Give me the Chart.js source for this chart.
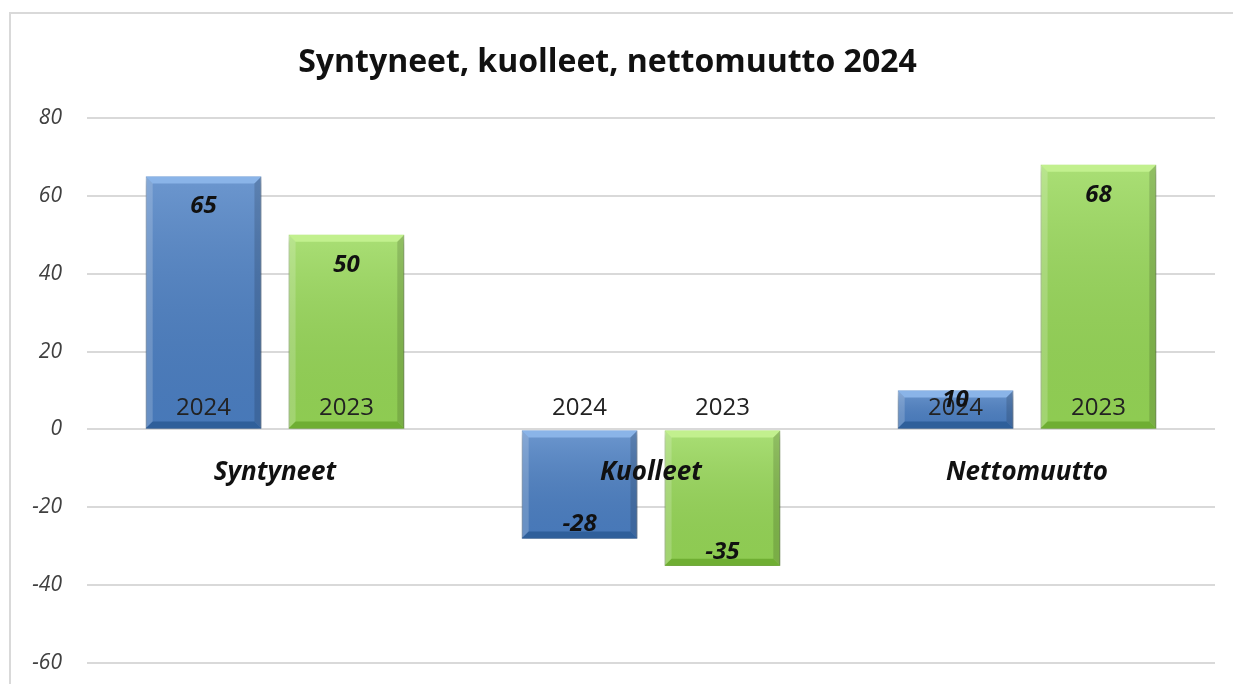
<!DOCTYPE html>
<html>
<head>
<meta charset="utf-8">
<script src="https://cdn.jsdelivr.net/npm/chart.js@4/dist/chart.umd.min.js"></script>
<style>
  html, body { margin: 0; padding: 0; background: #fff; }
  #wrap { position: relative; width: 1233px; height: 684px; overflow: hidden; }
  #frame { position: absolute; left: 9px; top: 12px; width: 1240px; height: 700px; border: 2px solid #d9d9d9; box-sizing: border-box; }
  canvas { position: absolute; left: 0; top: 0; }
</style>
</head>
<body>
<div id="wrap">
  <div id="frame"></div>
  <canvas id="c" width="1233" height="684"></canvas>
</div>
<script>
const titleText = 'Syntyneet, kuolleet, nettomuutto 2024';
const categories = ['Syntyneet', 'Kuolleet', 'Nettomuutto'];
const seriesNames = ['2024', '2023'];
const values2024 = [65, -28, 10];
const values2023 = [50, -35, 68];
const yTicks = [-60, -40, -20, 0, 20, 40, 60, 80];

const baseColors = ['#4c80c4', '#97d857'];
const lightColors = ['#8ab4e8', '#c2f08e'];
const darkColors = ['#2f5f9a', '#6fae33'];

const shadowPlugin = {
  id: 'shadowPlugin',
  beforeDatasetsDraw(chart) {
    const ctx = chart.ctx;
    ctx.save();
    ctx.shadowColor = 'rgba(0,0,0,0.35)';
    ctx.shadowBlur = 6;
    ctx.shadowOffsetX = 0;
    ctx.shadowOffsetY = 5;
  },
  afterDatasetsDraw(chart) {
    chart.ctx.restore();
  }
};

const bevelPlugin = {
  id: 'bevelPlugin',
  afterDatasetsDraw(chart) {
    const ctx = chart.ctx;
    chart.data.datasets.forEach((ds, di) => {
      const meta = chart.getDatasetMeta(di);
      meta.data.forEach((bar) => {
        const p = bar.getProps(['x', 'y', 'base', 'width'], true);
        const l = p.x - p.width / 2, r = p.x + p.width / 2;
        const t = Math.min(p.y, p.base), b = Math.max(p.y, p.base);
        const h = b - t;
        const bv = Math.min(7, h / 3);
        ctx.save();
        const g = ctx.createLinearGradient(0, t, 0, b);
        g.addColorStop(0, 'rgba(255,255,255,0.18)');
        g.addColorStop(1, 'rgba(0,0,0,0.06)');
        ctx.fillStyle = g;
        ctx.fillRect(l, t, r - l, h);
        ctx.fillStyle = lightColors[di];
        ctx.beginPath();
        ctx.moveTo(l, t); ctx.lineTo(r, t); ctx.lineTo(r - bv, t + bv); ctx.lineTo(l + bv, t + bv); ctx.closePath();
        ctx.fill();
        ctx.fillStyle = 'rgba(255,255,255,0.18)';
        ctx.beginPath();
        ctx.moveTo(l, t); ctx.lineTo(l + bv, t + bv); ctx.lineTo(l + bv, b - bv); ctx.lineTo(l, b); ctx.closePath();
        ctx.fill();
        ctx.fillStyle = 'rgba(0,0,0,0.14)';
        ctx.beginPath();
        ctx.moveTo(r, t); ctx.lineTo(r - bv, t + bv); ctx.lineTo(r - bv, b - bv); ctx.lineTo(r, b); ctx.closePath();
        ctx.fill();
        ctx.fillStyle = darkColors[di];
        ctx.beginPath();
        ctx.moveTo(l, b); ctx.lineTo(r, b); ctx.lineTo(r - bv, b - bv); ctx.lineTo(l + bv, b - bv); ctx.closePath();
        ctx.fill();
        ctx.restore();
      });
    });
  }
};

const labelPlugin = {
  id: 'labelPlugin',
  afterDatasetsDraw(chart) {
    const ctx = chart.ctx;
    const ys = chart.scales.y, xs = chart.scales.x;
    const zero = ys.getPixelForValue(0);
    ctx.save();
    ctx.textAlign = 'center';
    ctx.textBaseline = 'middle';
    ctx.fillStyle = '#111';
    ctx.font = 'italic bold 26px "Open Sans", sans-serif';
    categories.forEach((c, i) => {
      ctx.fillText(c, xs.getPixelForValue(i), zero + 43);
    });
    chart.data.datasets.forEach((ds, di) => {
      const meta = chart.getDatasetMeta(di);
      meta.data.forEach((bar, i) => {
        const p = bar.getProps(['x', 'y', 'base'], true);
        const v = ds.data[i];
        const h = Math.abs(p.base - p.y);
        ctx.fillStyle = '#222';
        ctx.font = '24px "Open Sans", sans-serif';
        ctx.fillText(seriesNames[di], p.x, zero - 21);
        ctx.fillStyle = '#111';
        ctx.font = 'italic bold 24px "Open Sans", sans-serif';
        let ly;
        if (v >= 0) ly = p.y + Math.min(30, h * 0.25);
        else ly = p.y - 14;
        ctx.fillText(String(v), p.x, ly);
      });
    });
    ctx.restore();
  }
};

new Chart(document.getElementById('c'), {
  type: 'bar',
  data: {
    labels: categories,
    datasets: [
      { label: seriesNames[0], data: values2024, backgroundColor: baseColors[0], borderColor: '#3d6aa3', borderWidth: 1, borderSkipped: false },
      { label: seriesNames[1], data: values2023, backgroundColor: baseColors[1], borderColor: '#78b43c', borderWidth: 1, borderSkipped: false }
    ]
  },
  options: {
    responsive: false,
    animation: false,
    devicePixelRatio: 1,
    layout: { padding: { top: 0, bottom: 21, left: 0, right: 18 } },
    categoryPercentage: 0.76,
    barPercentage: 0.81,
    plugins: {
      legend: { display: false },
      tooltip: { enabled: false },
      title: {
        display: true,
        text: titleText,
        color: '#111',
        font: { family: '"Open Sans", sans-serif', size: 32, weight: 'bold', lineHeight: 1.2 },
        padding: { top: 44, bottom: 35.6 }
      }
    },
    scales: {
      x: {
        display: false,
        grid: { display: false }
      },
      y: {
        min: -60, max: 80,
        afterBuildTicks(scale) { scale.ticks = yTicks.map(v => ({ value: v })); },
        afterFit(scale) { scale.width = 87; scale.paddingTop = 0; scale.paddingBottom = 0; },
        border: { display: false },
        grid: { color: '#d9d9d9', lineWidth: 2, drawTicks: false },
        ticks: {
          color: '#404040',
          padding: 25,
          font: { family: '"Open Sans", sans-serif', size: 21, style: 'italic' }
        }
      }
    }
  },
  plugins: [shadowPlugin, bevelPlugin, labelPlugin]
});
</script>
</body>
</html>
